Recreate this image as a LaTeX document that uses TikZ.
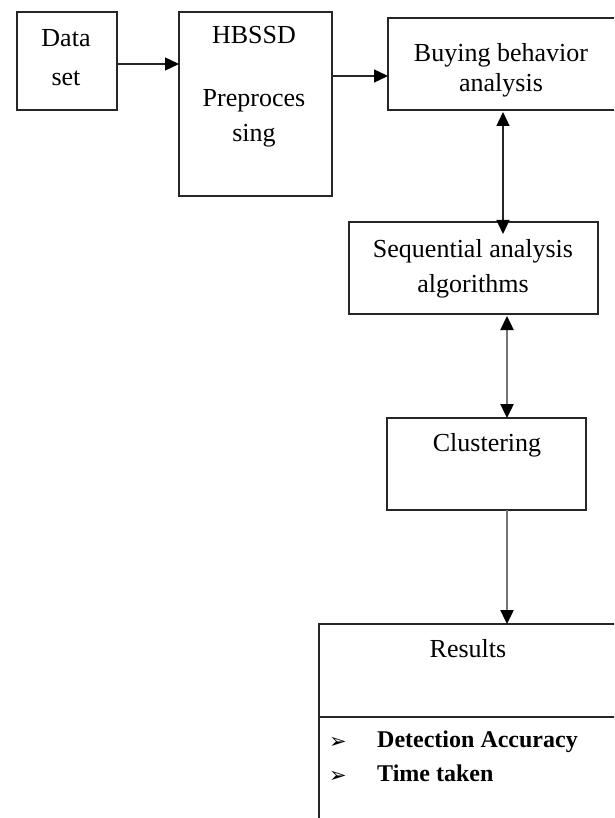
\documentclass[tikz,border=0pt]{standalone}
\usepackage{fontspec}
\setmainfont{Liberation Serif}
\newfontfamily\dvfont{DejaVu Sans}
\usetikzlibrary{arrows.meta}
\tikzset{
  box/.style={draw=black!85, line width=1.4pt, inner sep=0pt, outer sep=0pt},
  txt/.style={font=\fontsize{26}{30}\selectfont, inner sep=0pt, anchor=base},
  btxt/.style={font=\fontsize{24}{28}\selectfont\bfseries, inner sep=0pt, anchor=base west},
  bul/.style={inner sep=0pt, anchor=base, font=\dvfont\bfseries\fontsize{21}{24}\selectfont},
  arr/.style={line width=1.4pt, draw=black!85, -{Triangle[length=14pt,width=13pt,color=black]}},
  dbl/.style={line width=1.4pt, draw=black!85, {Triangle[length=14pt,width=13pt,color=black]}-{Triangle[length=14pt,width=13pt,color=black]}},
  garr/.style={line width=2.4pt, draw=black!55, -{Triangle[length=14pt,width=13pt,color=black]}},
  gdbl/.style={line width=2.4pt, draw=black!55, {Triangle[length=14pt,width=13pt,color=black]}-{Triangle[length=14pt,width=13pt,color=black]}},
}
\begin{document}
\begin{tikzpicture}[x=1pt,y=-1pt]
\clip (0,0) rectangle (614,818);
\fill[white] (0,0) rectangle (614,818);

% boxes
\node[box, minimum width=100pt, minimum height=98pt] (data) at (67,61) {};
\node[box, minimum width=153pt, minimum height=184pt] (hb) at (255.5,104) {};
\node[box, minimum width=262pt, minimum height=92pt] (buy) at (519,64) {};
\node[box, minimum width=249pt, minimum height=92pt] (seq) at (473.5,268) {};
\node[box, minimum width=199pt, minimum height=92pt] (clu) at (486.5,464) {};
\node[box, minimum width=341pt, minimum height=226pt] (res) at (489.5,737) {};
\coordinate (dv) at (0,717);
\draw[line width=1.4pt, draw=black!85] (res.west |- dv) -- (res.east |- dv);

% texts
\node[txt] (t1) at (66,47) {Data};
\node[txt] (t2) at (66,86) {set};
\node[txt] (t3) at (254,44) {HBSSD};
\node[txt] (t4) at (254,107) {Preproces};
\node[txt] (t5) at (254,142) {sing};
\node[txt] (t6) at (501,62) {Buying behavior};
\node[txt] (t7) at (501,92) {analysis};
\node[txt] (t8) at (473,257) {Sequential analysis};
\node[txt] (t9) at (473,292) {algorithms};
\node[txt] (t10) at (487,451) {Clustering};
\node[txt] (t11) at (468,657) {Results};
\node[bul] (b1) at (338,748) {➢};
\node[bul] (b2) at (338,782) {➢};
\node[btxt] (t12) at (377,747) {Detection Accuracy};
\node[btxt] (t13) at (377,781) {Time taken};

% connectors
\coordinate (a1) at ([yshift=-3pt]data.east);
\draw[arr] (a1) -- (a1 -| hb.west);
\coordinate (a2) at ([yshift=28pt]hb.east);
\draw[arr] (a2) -- (a2 -| buy.west);
\coordinate (v1) at (503,0);
\draw[dbl, shorten <=2pt, shorten >=-12pt] (v1 |- buy.south) -- (v1 |- seq.north);
\coordinate (v2) at (507,0);
\draw[gdbl, shorten <=2pt] (v2 |- seq.south) -- (v2 |- clu.north);
\draw[garr] (v2 |- clu.south) -- (v2 |- res.north);
\end{tikzpicture}
\end{document}
